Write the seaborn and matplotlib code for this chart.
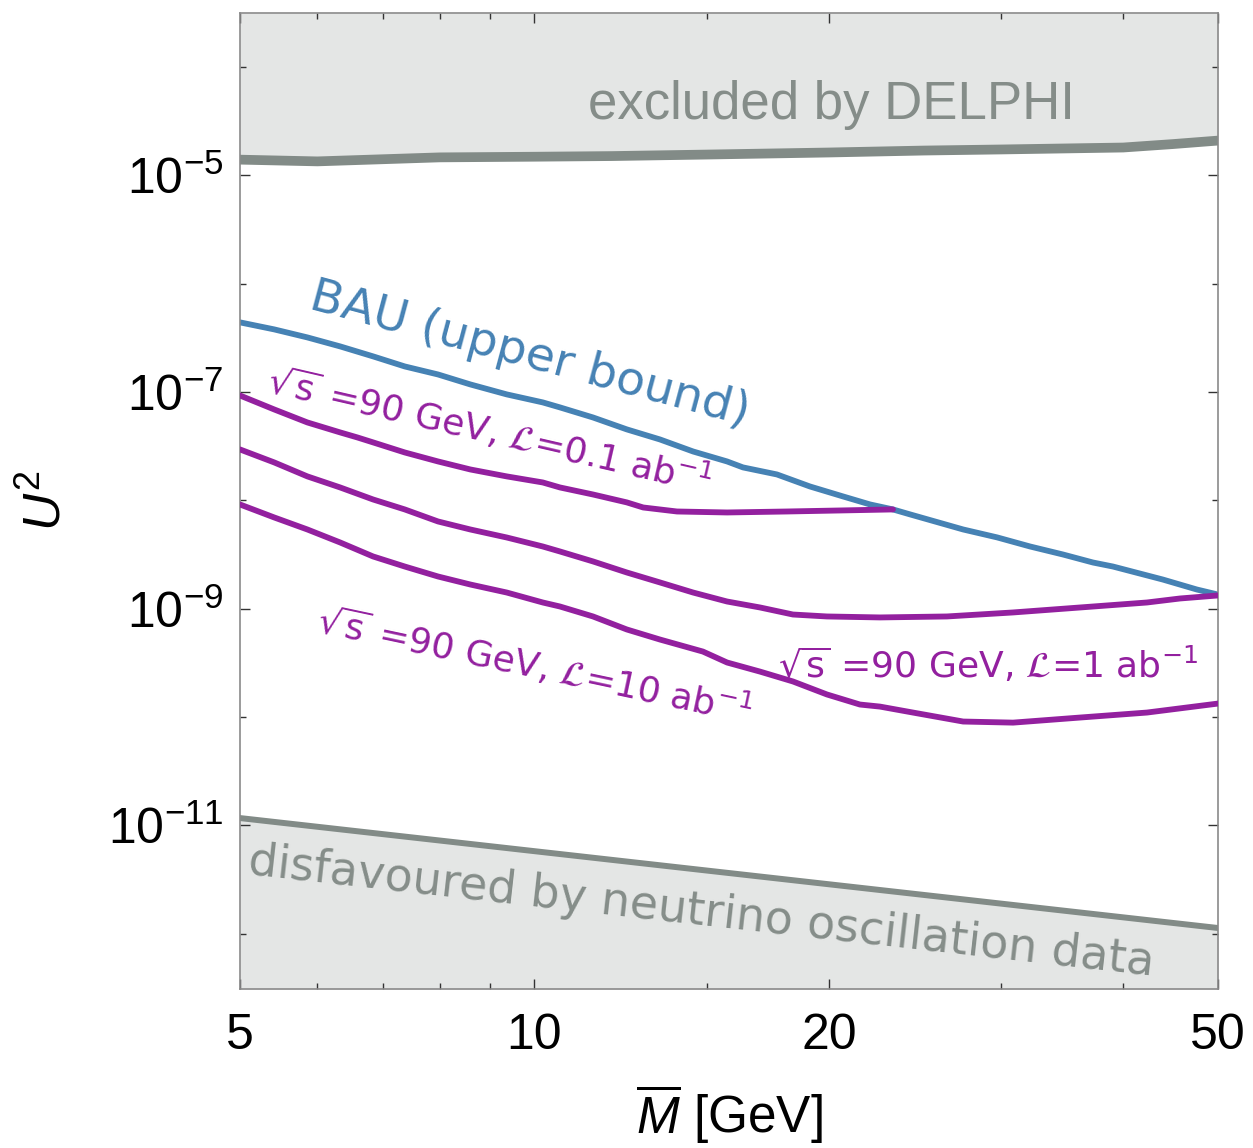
import numpy as np
import pandas as pd
import matplotlib
matplotlib.use("Agg")
import matplotlib.pyplot as plt
import seaborn as sns
from matplotlib.ticker import FixedLocator, FixedFormatter, NullFormatter

# ---------------- data (U^2 given as log10) ----------------
M_bau = [5, 5.42, 5.86, 6.33, 6.84, 7.37, 7.97, 8.6, 9.37, 10.2, 10.62, 11.48,
         12.43, 13.44, 14.53, 15.74, 16.34, 17.70, 19.13, 20.68, 22.04, 23.26,
         24.22, 27.44, 29.72, 32.12, 34.71, 37.25, 39.04, 43.90, 47.56, 50]
log10_U2_bau = [-6.356, -6.421, -6.495, -6.578, -6.670, -6.763, -6.837, -6.929,
                -7.021, -7.095, -7.141, -7.234, -7.344, -7.437, -7.548, -7.640,
                -7.695, -7.760, -7.871, -7.963, -8.037, -8.083, -8.129, -8.268,
                -8.341, -8.425, -8.499, -8.573, -8.610, -8.730, -8.822, -8.869]

M_l01 = [5, 5.42, 5.86, 6.33, 6.59, 6.84, 7.37, 7.97, 8.6, 9.37, 10.2, 10.62,
         11.48, 12.43, 12.92, 13.99, 15.74, 18.12, 20.68, 23.26]
log10_U2_l01 = [-7.031, -7.160, -7.280, -7.372, -7.418, -7.464, -7.557, -7.640,
                -7.714, -7.778, -7.834, -7.880, -7.945, -8.018, -8.065, -8.102,
                -8.111, -8.102, -8.092, -8.083]

M_l1 = [5, 5.42, 5.86, 6.33, 6.84, 7.37, 7.97, 8.6, 9.37, 10.2, 10.62, 11.48,
        12.43, 13.44, 14.53, 15.74, 17.01, 18.38, 19.91, 22.56, 26.41, 30.86,
        36.14, 42.30, 45.72, 50]
log10_U2_l1 = [-7.529, -7.649, -7.778, -7.880, -7.991, -8.083, -8.194, -8.268,
               -8.342, -8.425, -8.471, -8.563, -8.665, -8.757, -8.850, -8.933,
               -8.988, -9.053, -9.071, -9.080, -9.071, -9.034, -8.988, -8.942,
               -8.905, -8.877]

M_l10 = [5, 5.42, 5.86, 6.33, 6.84, 7.37, 7.97, 8.6, 9.37, 10.2, 10.62, 11.48,
         12.43, 13.44, 14.87, 15.74, 17.01, 18.38, 19.91, 21.52, 22.56, 24.38,
         27.44, 30.86, 36.14, 42.30, 50]
log10_U2_l10 = [-8.037, -8.157, -8.268, -8.388, -8.517, -8.610, -8.702, -8.776,
                -8.850, -8.942, -8.979, -9.071, -9.191, -9.284, -9.395, -9.496,
                -9.580, -9.671, -9.791, -9.884, -9.903, -9.958, -10.041, -10.051,
                -10.004, -9.958, -9.875]

M_nu = [5, 50]
log10_U2_nu = [-10.932, -11.947]

M_delphi = [5, 6, 8, 10, 12, 15, 20, 25, 30, 40, 45, 50]
log10_U2_delphi = [-4.854, -4.870, -4.833, -4.827, -4.821, -4.807, -4.788,
                   -4.770, -4.760, -4.742, -4.710, -4.678]

x_major = [5, 10, 20, 50]
x_major_labels = ["5", "10", "20", "50"]
x_minor = [6, 7, 8, 9, 15, 30, 40]
y_major = [1e-11, 1e-9, 1e-7, 1e-5]
y_major_labels = [r"$\mathdefault{10^{-11}}$", r"$\mathdefault{10^{-9}}$",
                  r"$\mathdefault{10^{-7}}$", r"$\mathdefault{10^{-5}}$"]
y_minor = [1e-12, 1e-10, 1e-8, 1e-6, 1e-4]

# ---------------- style ----------------
sns.set_style("ticks")
plt.rcParams["font.family"] = ["Liberation Sans", "DejaVu Sans"]
plt.rcParams["mathtext.fontset"] = "custom"
plt.rcParams["mathtext.rm"] = "Liberation Sans"
plt.rcParams["mathtext.it"] = "Liberation Sans:italic"
plt.rcParams["mathtext.bf"] = "Liberation Sans:bold"
for k in ["text.color", "axes.labelcolor", "xtick.color", "ytick.color"]:
    plt.rcParams[k] = "black"

PURPLE = "#93209f"
BLUE = "#4682b4"
GRAY = "#828b87"
FILL = "#e4e6e5"
TXTGRAY = "#858d89"

fig = plt.figure(figsize=(12.53, 11.48), dpi=100)
ax = fig.add_axes([0.1915, 0.1385, 0.7806, 0.8502])
ax.set_xscale("log")
ax.set_yscale("log")
ylo, yhi = 10**-12.51, 10**-3.5
ax.set_xlim(5, 50)
ax.set_ylim(ylo, yhi)

U2_delphi = 10.0 ** np.array(log10_U2_delphi)
U2_nu = 10.0 ** np.array(log10_U2_nu)

# shaded regions
ax.fill_between(M_delphi, U2_delphi, yhi, color=FILL, lw=0, zorder=0)
ax.fill_between(M_nu, ylo, U2_nu, color=FILL, lw=0, zorder=0)

def draw(M, logU, color, lw, z=2):
    df = pd.DataFrame({"M": M, "U2": 10.0 ** np.array(logU)})
    sns.lineplot(data=df, x="M", y="U2", color=color, linewidth=lw,
                 estimator=None, sort=False, ax=ax, zorder=z)

draw(M_delphi, log10_U2_delphi, GRAY, 7.0)
draw(M_nu, log10_U2_nu, GRAY, 4.3)
draw(M_bau, log10_U2_bau, BLUE, 4.2)
draw(M_l01, log10_U2_l01, PURPLE, 4.2, 3)
draw(M_l1, log10_U2_l1, PURPLE, 4.2, 3)
draw(M_l10, log10_U2_l10, PURPLE, 4.2, 3)

# ---------------- ticks / axes ----------------
ax.xaxis.set_major_locator(FixedLocator(x_major))
ax.xaxis.set_major_formatter(FixedFormatter(x_major_labels))
ax.xaxis.set_minor_locator(FixedLocator(x_minor))
ax.xaxis.set_minor_formatter(NullFormatter())
ax.yaxis.set_major_locator(FixedLocator(y_major))
ax.yaxis.set_major_formatter(FixedFormatter(y_major_labels))
ax.yaxis.set_minor_locator(FixedLocator(y_minor))
ax.yaxis.set_minor_formatter(NullFormatter())

ax.tick_params(which="both", direction="in", top=True, right=True,
               color="#333333", width=1.0)
ax.tick_params(which="major", length=7.5, labelsize=36)
ax.tick_params(axis="x", which="major", pad=17)
ax.tick_params(axis="y", which="major", pad=12)
ax.tick_params(which="minor", length=4.5)
for s in ax.spines.values():
    s.set_color("#8a8a8a")
    s.set_linewidth(1.2)

ax.set_xlabel(r"$\overline{M}$ [GeV]", fontsize=37, labelpad=17)
ax.set_ylabel(r"$U^2$", fontsize=37, labelpad=26)

# ---------------- annotations ----------------
ax.text(20.1, 4.43e-5, "excluded by DELPHI", color=TXTGRAY, fontsize=38,
        ha="center", va="center")
ax.text(14.8, 1.59e-12, "disfavoured by neutrino oscillation data",
        color=TXTGRAY, fontsize=33, family="DejaVu Sans", ha="center",
        va="center", rotation=-6.4, rotation_mode="anchor")
ax.text(9.9, 2.19e-7, "BAU (upper bound)", color=BLUE, fontsize=34,
        family="DejaVu Sans", ha="center", va="center", rotation=-15,
        rotation_mode="anchor")
ax.text(9.0, 4.45e-8, r"$\sqrt{\mathrm{s}}$ =90 GeV, $\mathcal{L}$=0.1 ab$^{-1}$",
        color=PURPLE, fontsize=26, family="DejaVu Sans", math_fontfamily="dejavusans",
        ha="center", va="center", rotation=-13, rotation_mode="anchor")
ax.text(10.0, 3.02e-10, r"$\sqrt{\mathrm{s}}$ =90 GeV, $\mathcal{L}$=10 ab$^{-1}$",
        color=PURPLE, fontsize=26, family="DejaVu Sans", math_fontfamily="dejavusans",
        ha="center", va="center", rotation=-12, rotation_mode="anchor")
ax.text(29.1, 3.02e-10, r"$\sqrt{\mathrm{s}}$ =90 GeV, $\mathcal{L}$=1 ab$^{-1}$",
        color=PURPLE, fontsize=26, family="DejaVu Sans", math_fontfamily="dejavusans",
        ha="center", va="center")

fig.savefig("out.png", dpi=100)
